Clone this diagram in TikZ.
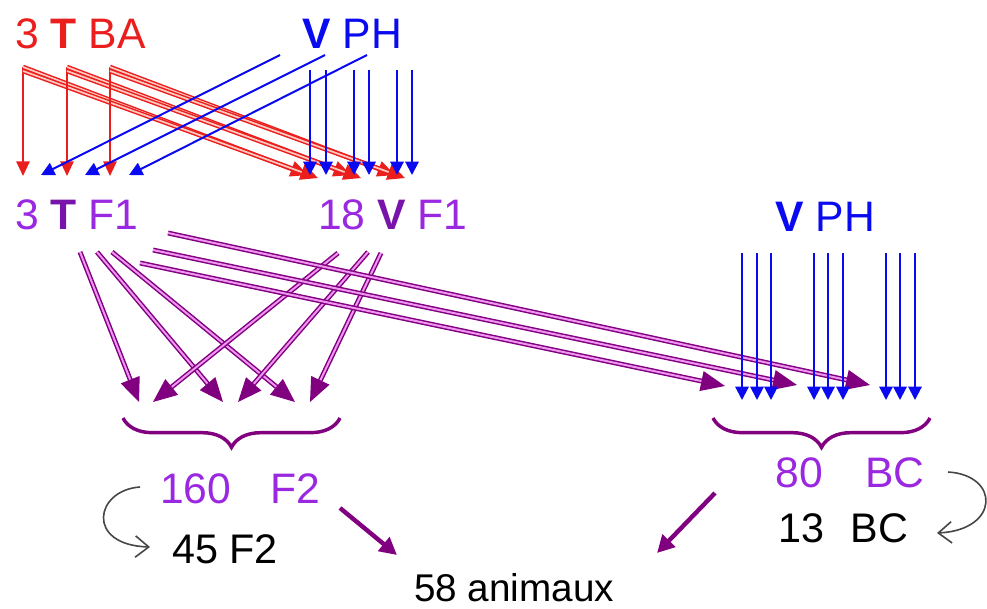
\documentclass[tikz,border=0pt]{standalone}
\usepackage{fontspec}
\setmainfont{Liberation Sans}
\usetikzlibrary{arrows.meta,decorations.pathreplacing}
\definecolor{cred}{RGB}{235,30,30}
\definecolor{credin}{RGB}{255,200,190}
\definecolor{cblue}{RGB}{10,10,240}
\definecolor{cpurp}{RGB}{128,0,128}
\definecolor{cpurpin}{RGB}{240,150,240}
\definecolor{tpurp}{RGB}{155,40,225}
\definecolor{tpurpb}{RGB}{120,20,170}
\definecolor{cgray}{RGB}{70,70,70}
\begin{document}
\begin{tikzpicture}[x=0.75pt,y=-0.75pt,
  lbl/.style={inner sep=0pt,anchor=base west,font=\fontsize{32}{38}\selectfont},
  lbls/.style={inner sep=0pt,anchor=base west,font=\fontsize{31}{36}\selectfont},
  redarr/.style={draw=cred,line width=1.4pt,-{Triangle[length=11pt,width=10pt]}},
  reddbl/.style={draw=cred,double=credin,line width=1.1pt,double distance=1.3pt,-{Triangle[length=13pt,width=12pt]}},
  bluearr/.style={draw=cblue,line width=1.5pt,-{Triangle[length=10pt,width=10pt]}},
  purpdbl/.style={draw=cpurp,double=cpurpin,line width=1.1pt,double distance=1.5pt,-{Triangle[length=18pt,width=15pt]}},
  brc/.style={draw=cpurp,line width=2.6pt,decorate,decoration={brace,mirror,amplitude=22pt}},
  fatarr/.style={draw=cpurp,line width=3.3pt,-{Triangle[length=13pt,width=13pt]}},
  grayarr/.style={draw=cgray,line width=1.2pt,-{Straight Barb[length=10pt,width=16pt]}}
]
\useasboundingbox (0,0) rectangle (987,608);

% labels
\node[lbl,text=cred] (tba) at (15,48) {3 \textbf{T} BA};
\node[lbl,text=cblue] (vph1) at (302,48) {\textbf{V} PH};
\node[lbl,text=tpurp] (tf1) at (15,229) {3 \textcolor{tpurpb}{\textbf{T}} F1};
\node[lbl,text=tpurp] (vf1) at (318,229) {18 \textcolor{tpurpb}{\textbf{V}} F1};
\node[lbl,text=cblue] (vph2) at (775,231) {\textbf{V} PH};
\node[lbl,text=tpurp] (f2a) at (160,503) {160\hspace{29pt}F2};
\node[lbl,text=tpurp] (bca) at (775,487) {80\hspace{32pt}BC};
\node[lbls] (f2b) at (172,563) {45 F2};
\node[lbls] (bcb) at (778,542) {13\hspace{20pt}BC};
\node[lbls,font=\fontsize{29}{34}\selectfont] (anim) at (414,601) {58 animaux};

% red arrows
\foreach \n/\x/\g in {1/23/311, 2/67/354, 3/110/398} {
  \coordinate (rs\n) at (\x,67);
  \coordinate (rt\n) at (\x,71);
  \coordinate (rv\n) at (\x,176);
  \coordinate (ra\n) at (\g-3,175);
  \coordinate (rb\n) at (\g+7,178);
  \draw[redarr] (rs\n) -- (rv\n);
  \draw[reddbl] (rs\n) -- (ra\n);
  \draw[reddbl] (rt\n) -- (rb\n);
}
% blue diagonals
\foreach \n/\a/\b in {1/280/41, 2/325/85, 3/367/129} {
  \coordinate (bs\n) at (\a,55);
  \coordinate (be\n) at (\b,175);
  \draw[bluearr] (bs\n) -- (be\n);
}
% blue verticals top
\foreach \n/\x in {1/310,2/326,3/354,4/369,5/397,6/412} {
  \coordinate (bt\n) at (\x,70);
  \coordinate (bu\n) at (\x,175);
  \draw[bluearr] (bt\n) -- (bu\n);
}
% purple to F2
\foreach \n/\sx/\sy/\ex in {1/80/252/139, 2/97/252/223, 3/112/252/295} {
  \coordinate (ps\n) at (\sx,\sy);
  \coordinate (pe\n) at (\ex,402);
  \draw[purpdbl] (ps\n) -- (pe\n);
}
\foreach \n/\sx/\sy/\ex in {1/338/253/153, 2/368/252/238, 3/381/253/310} {
  \coordinate (qs\n) at (\sx,\sy);
  \coordinate (qe\n) at (\ex,402);
  \draw[purpdbl] (qs\n) -- (qe\n);
}
% long purple to BC
\foreach \n/\sx/\sy/\ex/\ey in {1/168/233/870/385, 2/153/250/797/385, 3/140/263/725/386} {
  \coordinate (ls\n) at (\sx,\sy);
  \coordinate (le\n) at (\ex,\ey);
  \draw[purpdbl] (ls\n) -- (le\n);
}
% blue verticals right
\foreach \n/\x in {1/742,2/757,3/771,4/814,5/828,6/843,7/886,8/900,9/915} {
  \coordinate (ct\n) at (\x,253);
  \coordinate (cu\n) at (\x,400);
  \draw[bluearr] (ct\n) -- (cu\n);
}
% braces
\coordinate (bl1) at (123,418); \coordinate (bl2) at (340,418);
\coordinate (br1) at (713,418); \coordinate (br2) at (930,418);
\draw[brc] (bl1) -- (bl2);
\draw[brc] (br1) -- (br2);
% fat arrows
\coordinate (fa1) at (340,508); \coordinate (fa2) at (397,555);
\coordinate (fb1) at (715,493); \coordinate (fb2) at (657,553);
\draw[fatarr] (fa1) -- (fa2);
\draw[fatarr] (fb1) -- (fb2);
% gray curved arrows
\coordinate (gl1) at (140,487); \coordinate (gl2) at (150,547);
\coordinate (gr1) at (948,472); \coordinate (gr2) at (937,533);
\draw[grayarr] (gl1) .. controls (95,490) and (85,545) .. (gl2);
\draw[grayarr] (gr1) .. controls (1000,475) and (1000,530) .. (gr2);
\end{tikzpicture}
\end{document}
